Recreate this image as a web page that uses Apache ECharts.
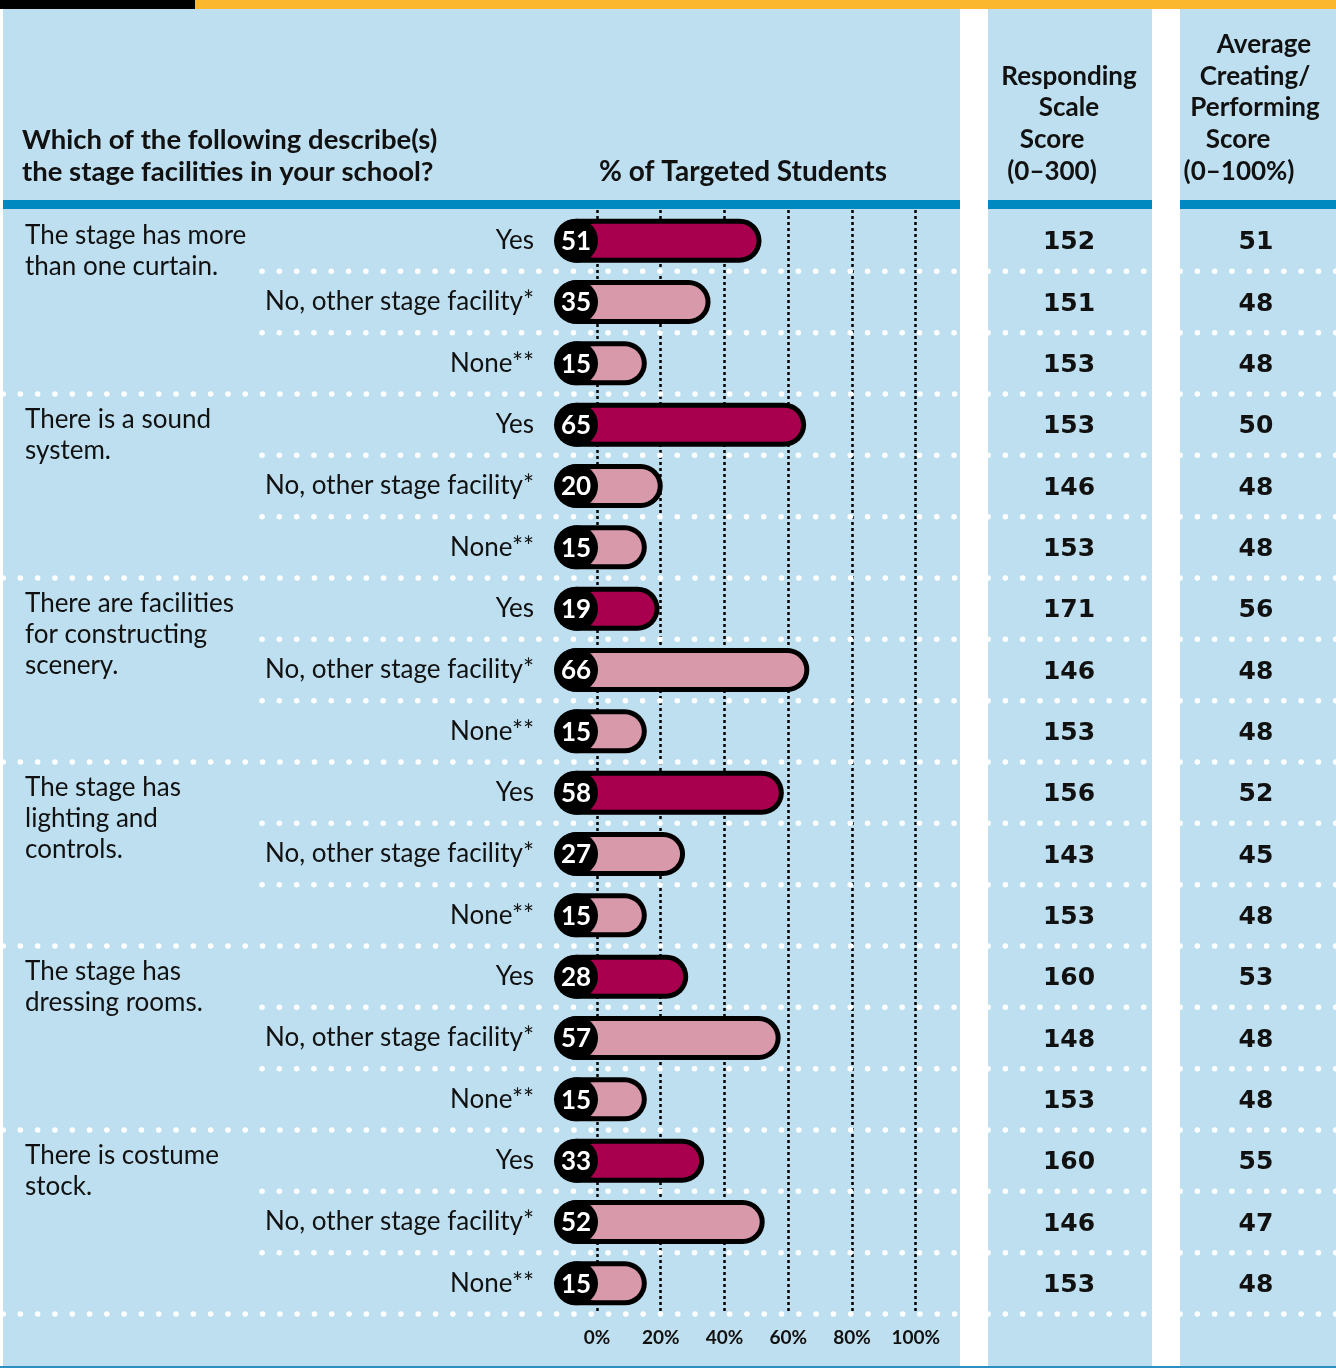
<!DOCTYPE html>
<html><head><meta charset="utf-8">
<script src="https://cdn.jsdelivr.net/npm/echarts@6/dist/echarts.min.js"></script>
<style>html,body{margin:0;padding:0;background:#fff}#c{width:1336px;height:1368px}</style>
</head><body><div id="c"></div>
<script>
// ---- data ----
const questions = [
  'The stage has more\nthan one curtain.',
  'There is a sound\nsystem.',
  'There are facilities\nfor constructing\nscenery.',
  'The stage has\nlighting and\ncontrols.',
  'The stage has\ndressing rooms.',
  'There is costume\nstock.'
];
const responseTypes = ['Yes', 'No, other stage facility*', 'None**'];
const percentValues = [51, 35, 15, 65, 20, 15, 19, 66, 15, 58, 27, 15, 28, 57, 15, 33, 52, 15];
const scaleScores = [152, 151, 153, 153, 146, 153, 171, 146, 153, 156, 143, 153, 160, 148, 153, 160, 146, 153];
const avgScores = [51, 48, 48, 50, 48, 48, 56, 48, 48, 52, 45, 48, 53, 48, 48, 55, 47, 48];
const xTicks = [0, 20, 40, 60, 80, 100];

// ---- derived ----
const rowLabels = [];
questions.forEach(() => responseTypes.forEach(r => rowLabels.push(r)));
const rowIds = rowLabels.map((_, i) => String(i));

const FONT = 'Lato';
const SCORE_FONT = 'DejaVu Sans';
const BG = '#BEDFEF';
const BLUE = '#0088C0';
const YES = '#A8004F';
const OTHER = '#D899AB';

const chart = echarts.init(document.getElementById('c'), null, {renderer: 'canvas'});

function dots(x1, x2, y) {
  return {
    type: 'line', silent: true,
    shape: {x1: x1, y1: y, x2: x2, y2: y},
    style: {stroke: '#fff', lineWidth: 5.5, lineCap: 'round', lineDash: [0.1, 17.2]}
  };
}

function renderItem(params, api) {
  const i = params.dataIndex;
  const v = api.value(0);
  const c0 = api.coord([0, i]);
  const cv = api.coord([v, i]);
  const y = c0[1];
  const rowH = api.size([0, 1])[1];
  const by = y + rowH / 2;
  const groupEnd = i % 3 === 2;
  const fill = i % 3 === 0 ? YES : OTHER;
  const left = c0[0] - 42;
  const right = cv[0] + 2;
  const children = [
    dots(groupEnd ? 3 : 262, 960, by),
    dots(988, 1152, by),
    dots(1180, 1336, by),
    {type: 'rect', shape: {x: left, y: y - 22, width: right - left, height: 44, r: 22}, style: {fill: '#000'}},
    {type: 'rect', shape: {x: c0[0] - 20, y: y - 17, width: right - 5 - (c0[0] - 20), height: 34, r: 17}, style: {fill: fill}},
    {type: 'circle', shape: {cx: c0[0] - 21, cy: y, r: 22}, style: {fill: '#000'}},
    {type: 'text', style: {x: c0[0] - 21, y: y + 1, text: String(v), fill: '#fff', font: 'bold 26px ' + FONT, align: 'center', verticalAlign: 'middle'}},
    {type: 'text', style: {x: 1069, y: y + 2, text: String(scaleScores[i]), fill: '#111', font: 'bold 25px "' + SCORE_FONT + '"', align: 'center', verticalAlign: 'middle'}},
    {type: 'text', style: {x: 1256, y: y + 2, text: String(avgScores[i]), fill: '#111', font: 'bold 25px "' + SCORE_FONT + '"', align: 'center', verticalAlign: 'middle'}}
  ];
  if (i % 3 === 0) {
    children.push({type: 'text', style: {x: 25, y: y - 21, text: questions[i / 3], fill: '#111', font: '26px ' + FONT, lineHeight: 31, align: 'left', verticalAlign: 'top'}});
  }
  return {type: 'group', children: children};
}

function hText(x, y, text, align, size) {
  return {type: 'text', z: 1, style: {x: x, y: y, text: text, fill: '#111', font: 'bold ' + (size || 26) + 'px ' + FONT, align: align || 'center', verticalAlign: 'middle'}};
}

const option = {
  animation: false,
  backgroundColor: '#fff',
  grid: {left: 597, width: 318.7, top: 210, height: 1104, containLabel: false},
  xAxis: {
    type: 'value', min: xTicks[0], max: xTicks[xTicks.length - 1], interval: 20,
    position: 'bottom',
    axisLine: {show: false}, axisTick: {show: false},
    axisLabel: {formatter: '{value}%', fontFamily: FONT, fontWeight: 'bold', fontSize: 19, color: '#111', margin: 14},
    splitLine: {show: true, lineStyle: {color: '#000', width: 2.5, type: [3, 3]}}
  },
  yAxis: {
    type: 'category', data: rowIds, inverse: true,
    axisLine: {show: false}, axisTick: {show: false}, splitLine: {show: false},
    axisLabel: {formatter: v => rowLabels[+v], fontFamily: FONT, fontSize: 26, color: '#111', margin: 63}
  },
  graphic: [
    {type: 'rect', z: -1, shape: {x: 0, y: 0, width: 195, height: 9}, style: {fill: '#000'}},
    {type: 'rect', z: -1, shape: {x: 195, y: 0, width: 1141, height: 9}, style: {fill: '#FBB82F'}},
    {type: 'rect', z: -1, shape: {x: 3, y: 9, width: 957, height: 1357}, style: {fill: BG}},
    {type: 'rect', z: -1, shape: {x: 988, y: 9, width: 164, height: 1357}, style: {fill: BG}},
    {type: 'rect', z: -1, shape: {x: 1180, y: 9, width: 156, height: 1357}, style: {fill: BG}},
    {type: 'rect', z: -1, shape: {x: 3, y: 200, width: 957, height: 9}, style: {fill: BLUE}},
    {type: 'rect', z: -1, shape: {x: 988, y: 200, width: 164, height: 9}, style: {fill: BLUE}},
    {type: 'rect', z: -1, shape: {x: 1180, y: 200, width: 156, height: 9}, style: {fill: BLUE}},
    {type: 'rect', z: -1, shape: {x: 0, y: 1366, width: 1336, height: 2}, style: {fill: '#2B8FC4'}},
    hText(22, 140, 'Which of the following describe(s)', 'left', 27.5),
    hText(22, 172, 'the stage facilities in your school?', 'left', 27.5),
    hText(743, 172, '% of Targeted Students', 'center', 28),
    hText(1069, 77, 'Responding'),
    hText(1069, 108, 'Scale'),
    hText(1052, 140, 'Score'),
    hText(1052, 172, '(0\u2013300)'),
    hText(1264, 45, 'Average'),
    hText(1255, 77, 'Creating/'),
    hText(1255, 108, 'Performing'),
    hText(1238, 140, 'Score'),
    hText(1239, 172, '(0\u2013100%)')
  ],
  series: [{
    type: 'custom',
    renderItem: renderItem,
    encode: {x: 0, y: 1},
    clip: false,
    data: percentValues.map((v, i) => [v, i])
  }]
};
chart.setOption(option);
</script>
</body></html>
